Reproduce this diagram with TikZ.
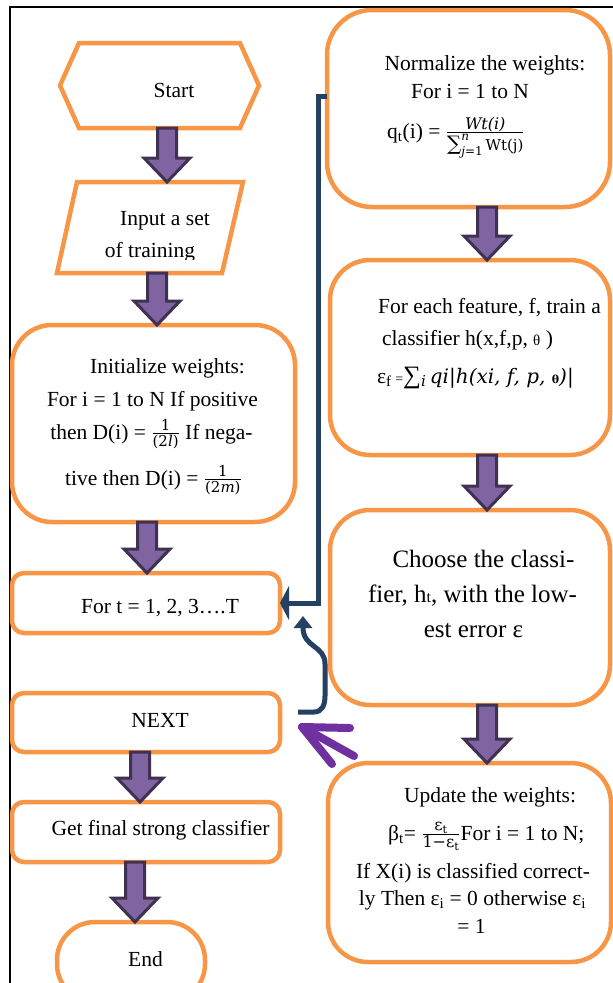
\documentclass[tikz,border=0pt]{standalone}
\usepackage{amsmath}
\usepackage{fontspec}
\setmainfont{Liberation Serif}
\newfontfamily\mfont{DejaVu Serif}
\usetikzlibrary{calc,arrows.meta}
\definecolor{obord}{RGB}{247,150,70}
\definecolor{navy}{RGB}{36,64,98}
\definecolor{afill}{RGB}{128,100,162}
\definecolor{aline}{RGB}{63,49,81}
\definecolor{pline}{RGB}{112,48,160}
\newcommand\fs[1]{\fontsize{#1}{#1}\selectfont}
\newcommand\barrow[3]{\path[barrowstyle] let \p1=(#2), \p2=(#3) in (#1pt-9.5pt,\y1) -- (#1pt+9.5pt,\y1) -- (#1pt+9.5pt,\y2+24pt) -- (#1pt+23pt,\y2+24pt) -- (#1pt,\y2) -- (#1pt-23pt,\y2+24pt) -- (#1pt-9.5pt,\y2+24pt) -- cycle;}
\begin{document}
\begin{tikzpicture}[x=1pt,y=-1pt,
 obox/.style={draw=obord, line width=4.5pt, inner sep=0pt, outer sep=0pt},
 rbox/.style={obox, rounded corners=#1},
 ghost/.style={inner sep=0pt, outer sep=0pt},
 txt/.style={anchor=base, inner sep=0pt, font=\fontsize{21.5}{26}\selectfont},
 bigtxt/.style={anchor=base, inner sep=0pt, font=\fontsize{25}{30}\selectfont},
 barrowstyle/.style={draw=aline, fill=afill, line width=3pt, line join=miter},
 navyline/.style={draw=navy, line width=5pt},
]
\useasboundingbox (0,0) rectangle (613,983);
\fill[white] (0,0) rectangle (613,983);
% frame
\draw[black, line width=2.5pt] (613,7) -- (10,7) -- (10,990);

% left column
\node[ghost, minimum width=199pt, minimum height=85pt] (start) at (159.5,85.5) {};
\draw[obox] (start.west) -- ([xshift=19pt]start.north west) -- ([xshift=-19pt]start.north east) -- (start.east) -- ([xshift=-19pt]start.south east) -- ([xshift=19pt]start.south west) -- cycle;
\node[ghost, minimum width=186pt, minimum height=91pt] (input) at (150,227.5) {};
\draw[obox] ([xshift=20pt]input.north west) -- (input.north east) -- ([xshift=-21pt]input.south east) -- (input.south west) -- cycle;
\node[rbox=40pt, minimum width=283pt, minimum height=197pt] (init) at (153.5,423.5) {};
\node[rbox=12pt, minimum width=268pt, minimum height=60pt] (fort) at (146,603) {};
\node[rbox=12pt, minimum width=268pt, minimum height=59pt] (next) at (146,722.5) {};
\node[rbox=12pt, minimum width=268pt, minimum height=60pt] (getf) at (146,832) {};
\node[rbox=38pt, minimum width=148pt, minimum height=80pt] (end) at (131,962) {};

% right column
\node[rbox=45pt, minimum width=283pt, minimum height=197pt] (norm) at (468.5,108.5) {};
\node[rbox=40pt, minimum width=280pt, minimum height=195pt] (feat) at (470,357.5) {};
\node[rbox=40pt, minimum width=280pt, minimum height=195pt] (choose) at (470,607.5) {};
\node[rbox=40pt, minimum width=283pt, minimum height=199pt] (update) at (469.5,862.5) {};

% block arrows
\barrow{167}{start.south}{input.north}
\barrow{157}{input.south}{init.north}
\barrow{147}{init.south}{fort.north}
\barrow{140}{next.south}{getf.north}
\barrow{135}{getf.south}{end.north}
\barrow{487}{norm.south}{feat.north}
\barrow{487}{feat.south}{choose.north}
\barrow{487}{choose.south}{update.north}

% navy loop
\draw[navyline, -{Triangle[length=9pt,width=34pt]}] (norm.west |- 0,96) -- (318,96) -- (318,603) -- (fort.east);
\coordinate (c1) at (298,712);
\coordinate (c2) at (303,616);
\draw[navyline, -{Triangle[length=12pt,width=18pt]}] (c1) -- (314,712) .. controls (322,712) and (325,705) .. (325,696) -- (325,664) .. controls (325,645) and (303,648) .. (c2);
% purple arrow
\coordinate (ptip) at (302,727);
\draw[draw=pline, line width=8pt, line cap=round, line join=round] (350,728) -- (ptip) -- (332,764);
\draw[draw=pline, line width=8pt, line cap=round] (ptip) -- (354,756);

% texts left
\node[txt] (tstart) at (174,97) {Start};
\begin{scope}
\clip (0,150) rectangle (300,259);
\node[txt] (tin1) at (165,225) {Input a set};
\node[txt] (tin2) at (150,257) {of training};
\end{scope}
\node[txt] (ti1) at (167.5,373) {Initialize weights:};
\node[txt] (ti2) at (152.5,406) {For i = 1 to N If positive};
\node[txt] (ti3) at (151.5,439) {then D(i) = $\frac{\text{\mfont\fs{15}1}}{\text{\mfont\fs{15}(2\textit{l})}}$ If nega-};
\node[txt] (ti4) at (153.5,485) {tive then D(i) = $\frac{\text{\mfont\fs{15}1}}{\text{\mfont\fs{15}(2\textit{m})}}$};
\node[txt] (tf) at (160,613) {For t = 1, 2, 3….T};
\node[txt] (tn) at (160,727) {NEXT};
\node[txt] (tg) at (160.5,835) {Get final strong classifier};
\node[txt] (te) at (145.5,966) {End};

% texts right
\node[txt] (tn1) at (485,70) {Normalize the weights:};
\node[txt] (tn2) at (470,98) {For i = 1 to N};
\node[txt, anchor=base west] (tn3) at (387,138) {q\textsubscript{t}(i) = $\frac{\text{\mfont\itshape\fs{16}Wt(i)}}{\text{\mfont\fs{20}∑}_{\text{\mfont\fs{12}\itshape j\upshape=1}}^{\text{\mfont\fs{12}\itshape n}}\text{\mfont\fs{15}\,Wt(j)}}$};
\node[txt, anchor=base west] (tfe1) at (378,313) {For each feature, f, train a};
\node[txt, anchor=base west] (tfe2) at (382,345) {classifier h(x,f,p, {\fs{15}θ} )};
\node[txt, anchor=base west] (tfe3) at (377,383) {ε\textsubscript{f}\,{\fs{14}=}{\fs{25}∑}\textsubscript{\mfont\itshape i}\,{\mfont\itshape\fs{20}qi|h(xi, f, p, {\upshape\bfseries\fs{11}θ})|}};
\node[bigtxt] (tc1) at (483.5,567) {Choose the classi-};
\node[bigtxt] (tc2) at (472.5,602) {fier, h{\fs{16}t}, with the low-};
\node[bigtxt] (tc3) at (473.5,637) {est error ε};
\node[txt] (tu1) at (490,802) {Update the weights:};
\node[txt, anchor=base west] (tu2) at (388,840) {β\textsubscript{t}= $\frac{\text{\mfont\fs{16}ε\textsubscript{t}}}{\text{\mfont\fs{16}1−ε\textsubscript{t}}}$For i = 1 to N;};
\node[txt] (tu3) at (473,878) {If X(i) is classified correct-};
\node[txt] (tu4) at (472.5,905) {ly Then ε\textsubscript{i} = 0 otherwise ε\textsubscript{i}};
\node[txt] (tu5) at (471.5,933) {= 1};
\end{tikzpicture}
\end{document}
